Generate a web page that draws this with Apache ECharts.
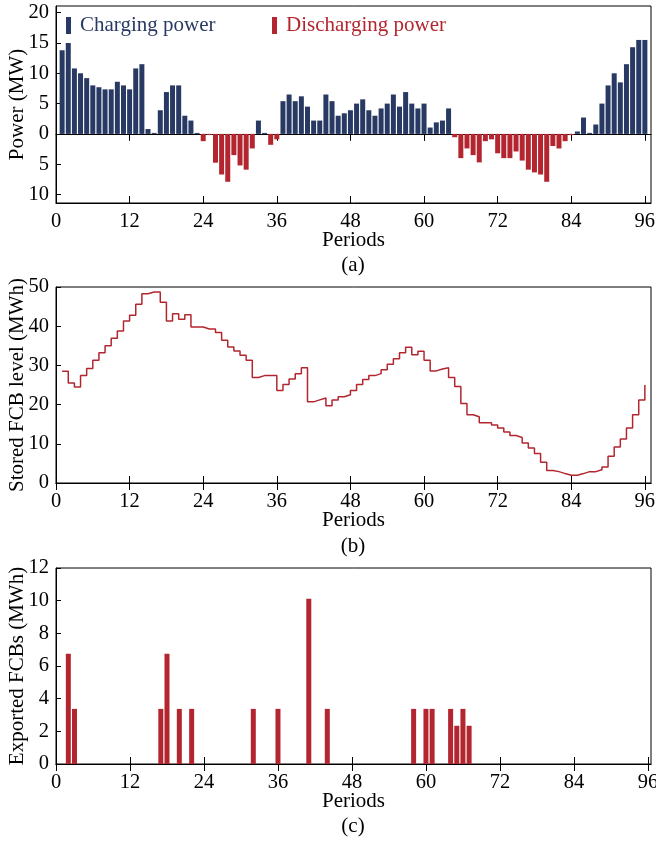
<!DOCTYPE html>
<html lang="en">
<head>
<meta charset="utf-8">
<script src="https://cdn.jsdelivr.net/npm/echarts@6/dist/echarts.min.js"></script>
<title>fcb_power_storage</title>
</head>
<body>
<style>
    html, body {
        margin: 0;
        background: #fff;
    }
    #main {
        width: 656px;
        height: 842px;
    }
</style>
<div id="main"></div>
<script>
    // (a) power per period, + = charging, - = discharging (MW)
    var power = [13.8, 15.0, 10.8, 10.0, 9.2, 8.0, 7.7, 7.35, 7.35, 8.6, 8.0, 7.35,
        10.8, 11.5, 0.8, 0.15, 3.9, 6.9, 8.0, 8.0, 3.0, 2.2, 0.15, -1.2,
        -0.15, -4.75, -6.7, -7.9, -3.5, -5.2, -5.9, -2.4, 2.2, 0.15, -1.8, -0.9,
        5.4, 6.5, 5.4, 6.2, 4.5, 2.2, 2.2, 6.5, 5.4, 3.0, 3.4, 3.9,
        5.0, 5.7, 3.9, 3.0, 4.2, 5.0, 6.5, 4.5, 6.9, 5.0, 4.2, 5.0,
        1.05, 1.9, 2.2, 4.2, -0.55, -4.0, -2.4, -3.5, -4.7, -1.2, -0.9, -3.2,
        -4.0, -4.0, -2.9, -4.4, -5.9, -6.35, -6.7, -7.9, -2.0, -2.4, -1.2, -0.2,
        0.4, 2.7, 0.15, 1.55, 5.0, 8.0, 10.0, 8.5, 11.5, 14.3, 15.5, 15.5];

    // (b) stored FCB level (MWh)
    var stored = [28.5, 25.5, 24.5, 27.4, 29.2, 31.3, 33.2, 35.0, 36.9, 38.8, 41.3, 42.8,
        45.6, 48.3, 48.7, 48.7, 46.1, 41.3, 43.2, 41.8, 42.9, 39.8, 39.8, 39.3,
        39.3, 38.4, 36.4, 34.7, 33.7, 32.6, 31.3, 26.9, 27.4, 27.4, 27.4, 23.6,
        25.1, 26.5, 27.9, 29.4, 20.7, 21.2, 21.7, 19.7, 21.2, 22.0, 22.5, 23.6,
        25.1, 26.4, 27.4, 27.9, 28.9, 30.3, 31.7, 33.2, 34.6, 32.7, 33.6, 31.3,
        28.6, 29.1, 29.4, 26.9, 24.6, 20.3, 17.4, 16.9, 15.4, 15.4, 14.8, 14.0,
        13.0, 12.1, 11.6, 10.2, 8.9, 7.5, 5.3, 3.2, 2.9, 2.4, 2.0, 2.0,
        2.4, 2.9, 2.9, 3.4, 4.1, 6.8, 9.2, 11.2, 14.0, 17.4, 21.2, 25.0];

    // (c) exported FCBs (MWh), only non-zero periods
    var exportPeriods = [2, 3, 17, 18, 20, 22, 32, 36, 41, 44, 58, 60, 61, 64, 65, 66, 67];
    var exportValues = [6.75, 3.375, 3.375, 6.75, 3.375, 3.375, 3.375, 3.375, 10.125,
        3.375, 3.375, 3.375, 3.375, 3.375, 2.34, 3.375, 2.34];

    var periodTicks = [0, 12, 24, 36, 48, 60, 72, 84, 96];
    var powerTicks = [-10, -5, 0, 5, 10, 15, 20];

    var navy = '#283a63';
    var red = '#b3262f';
    var font = 'Liberation Serif, Times New Roman, serif';

    var charge = power.map(function (v, i) { return [i + 1, v > 0 ? v : null]; });
    var discharge = power.map(function (v, i) { return [i + 1, v < 0 ? v : null]; });
    var storedData = stored.map(function (v, i) { return [i + 1, v]; });
    var exportData = exportPeriods.map(function (p, i) { return [p, exportValues[i]]; });

    var lineBlack = {show: true, lineStyle: {color: '#000', width: 1}};

    function bottomAxis(grid, max) {
        return {
            type: 'value', gridIndex: grid, min: 0, max: max, position: 'bottom',
            axisLine: {show: true, onZero: false, lineStyle: {color: '#000', width: 1}},
            axisTick: {inside: true, length: 7, customValues: periodTicks, lineStyle: {color: '#000'}},
            axisLabel: {customValues: periodTicks, color: '#000', fontFamily: font, fontSize: 20.5, margin: 8},
            splitLine: {show: false},
            name: 'Periods', nameLocation: 'middle', nameGap: 27, nameMoveOverlap: false,
            nameTextStyle: {color: '#000', fontFamily: font, fontSize: 21}
        };
    }

    function topAxis(grid, max) {
        return {
            type: 'value', gridIndex: grid, min: 0, max: max, position: 'top',
            axisLine: lineBlack,
            axisTick: {inside: true, length: 7, customValues: periodTicks, lineStyle: {color: '#000'}},
            axisLabel: {show: false},
            splitLine: {show: false}
        };
    }

    function leftAxis(grid, name, extra) {
        var ax = {
            type: 'value', gridIndex: grid,
            axisLine: lineBlack,
            axisTick: {inside: true, length: 5, lineStyle: {color: '#000'}},
            axisLabel: {color: '#000', fontFamily: font, fontSize: 20.5, margin: 7},
            splitLine: {show: false},
            name: name, nameLocation: 'middle', nameGap: 28, nameRotate: 90, nameMoveOverlap: false,
            nameTextStyle: {color: '#000', fontFamily: font, fontSize: 21}
        };
        for (var k in extra) ax[k] = extra[k];
        return ax;
    }

    var gridBase = {left: 56, right: 5, height: 196, show: true, borderColor: '#000', borderWidth: 1,
        containLabel: false, outerBoundsMode: 'none'};

    var chart = echarts.init(document.getElementById('main'));
    var option = {
        animation: false,
        backgroundColor: '#fff',
        grid: [
            Object.assign({}, gridBase, {top: 6, height: 197}),
            Object.assign({}, gridBase, {top: 287}),
            Object.assign({}, gridBase, {top: 568})
        ],
        legend: [
            {
                left: 66, top: 15, padding: 0, itemWidth: 5, itemHeight: 17, icon: 'rect',
                selectedMode: false,
                textStyle: {fontFamily: font, fontSize: 21, padding: [0, 0, 0, 4]},
                data: [{name: 'Charging power', textStyle: {color: navy}}]
            },
            {
                left: 272, top: 15, padding: 0, itemWidth: 5, itemHeight: 17, icon: 'rect',
                selectedMode: false,
                textStyle: {fontFamily: font, fontSize: 21, padding: [0, 0, 0, 4]},
                data: [{name: 'Discharging power', textStyle: {color: red}}]
            }
        ],
        xAxis: [
            bottomAxis(0, 97), topAxis(0, 97),
            bottomAxis(1, 97), topAxis(1, 97),
            bottomAxis(2, 96.5), topAxis(2, 96.5)
        ],
        yAxis: [
            leftAxis(0, 'Power (MW)', {
                min: -11.4, max: 21.1,
                axisTick: {inside: true, length: 5, customValues: powerTicks, lineStyle: {color: '#000'}},
                axisLabel: {
                    customValues: powerTicks, color: '#000', fontFamily: font, fontSize: 20.5, margin: 7,
                    formatter: function (v) { return Math.abs(v); }
                }
            }),
            leftAxis(1, 'Stored FCB level (MWh)', {min: 0, max: 50, interval: 10}),
            leftAxis(2, 'Exported FCBs (MWh)', {min: 0, max: 12, interval: 2})
        ],
        graphic: [
            {type: 'text', x: 353, y: 255, style: {text: '(a)', textAlign: 'center', fill: '#000', font: '21px ' + font}},
            {type: 'text', x: 353, y: 536, style: {text: '(b)', textAlign: 'center', fill: '#000', font: '21px ' + font}},
            {type: 'text', x: 353, y: 816, style: {text: '(c)', textAlign: 'center', fill: '#000', font: '21px ' + font}}
        ],
        series: [
            {
                name: 'Charging power', type: 'bar', xAxisIndex: 0, yAxisIndex: 0,
                barWidth: 5, barGap: '-100%', barMinHeight: 1,
                itemStyle: {color: navy}, data: charge
            },
            {
                name: 'Discharging power', type: 'bar', xAxisIndex: 0, yAxisIndex: 0,
                barWidth: 5, barGap: '-100%', barMinHeight: 1,
                itemStyle: {color: red}, data: discharge
            },
            {
                name: 'Stored', type: 'line', xAxisIndex: 2, yAxisIndex: 1,
                step: 'end', showSymbol: false,
                lineStyle: {color: red, width: 1.5}, data: storedData
            },
            {
                name: 'Exported', type: 'bar', xAxisIndex: 4, yAxisIndex: 2,
                barWidth: 5, itemStyle: {color: red}, data: exportData
            }
        ]
    };
    chart.setOption(option);
    window.onresize = chart.resize;
</script>
</body>
</html>
